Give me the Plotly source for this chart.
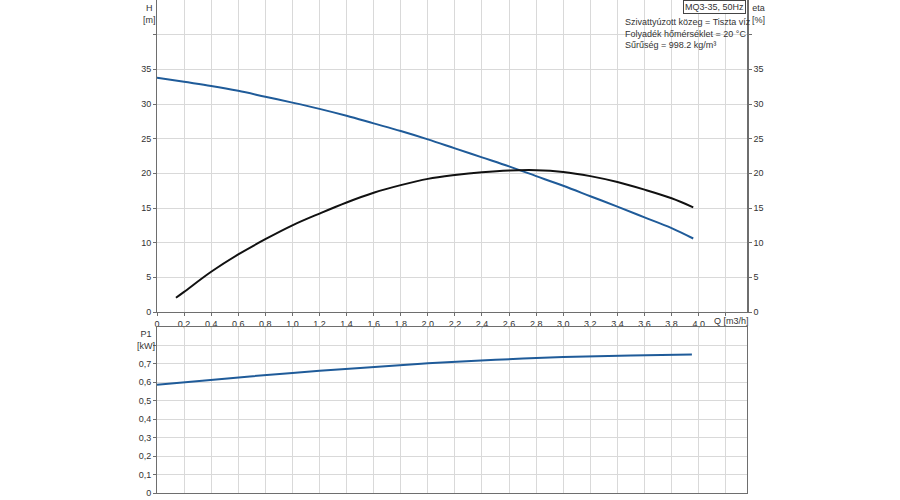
import plotly.graph_objects as go

# ---- data ----
q_h = [0, 0.2, 0.4, 0.6, 0.8, 1.0, 1.2, 1.4, 1.6, 1.8, 2.0, 2.2, 2.4, 2.6, 2.8, 3.0, 3.2, 3.4, 3.6, 3.8, 3.96]
h_m = [33.8, 33.2, 32.6, 31.9, 31.05, 30.2, 29.3, 28.3, 27.2, 26.1, 24.9, 23.6, 22.3, 21.0, 19.6, 18.2, 16.7, 15.2, 13.65, 12.1, 10.6]

q_eta = [0.14, 0.2, 0.4, 0.6, 0.8, 1.0, 1.2, 1.4, 1.6, 1.8, 2.0, 2.2, 2.4, 2.6, 2.8, 3.0, 3.2, 3.4, 3.6, 3.8, 3.96]
eta_pct = [2.05, 2.9, 5.8, 8.3, 10.5, 12.5, 14.2, 15.8, 17.2, 18.3, 19.2, 19.75, 20.15, 20.4, 20.45, 20.2, 19.6, 18.75, 17.65, 16.4, 15.1]

q_p1 = [0, 0.5, 1.0, 1.5, 2.0, 2.5, 3.0, 3.5, 3.95]
p1_kw = [0.587, 0.62, 0.651, 0.678, 0.703, 0.722, 0.737, 0.746, 0.751]

q_ticks = [0, 0.2, 0.4, 0.6, 0.8, 1.0, 1.2, 1.4, 1.6, 1.8, 2.0, 2.2, 2.4, 2.6, 2.8, 3.0, 3.2, 3.4, 3.6, 3.8, 4.0, 4.2]
q_labels = ["0", "0,2", "0,4", "0,6", "0,8", "1,0", "1,2", "1,4", "1,6", "1,8", "2,0",
            "2,2", "2,4", "2,6", "2,8", "3,0", "3,2", "3,4", "3,6", "3,8", "4,0", ""]
h_ticks = [0, 5, 10, 15, 20, 25, 30, 35, 40]
h_labels = ["0", "5", "10", "15", "20", "25", "30", "35", ""]
p_ticks = [0, 0.1, 0.2, 0.3, 0.4, 0.5, 0.6, 0.7, 0.8]
p_labels = ["0", "0,1", "0,2", "0,3", "0,4", "0,5", "0,6", "0,7", ""]

info_lines = ["Szivattyúzott közeg = Tiszta víz", "Folyadék hőmérséklet = 20 °C", "Sűrűség = 998.2 kg/m³"]

BLUE = "#1f5b99"
GRID = "#d9d9d9"
AXIS = "#6e6e6e"
TXT = "#333333"
FONT = "Liberation Sans, Arial, sans-serif"

fig = go.Figure()
fig.add_trace(go.Scatter(x=q_h, y=h_m, mode="lines", line=dict(color=BLUE, width=2, shape="spline"),
                         xaxis="x", yaxis="y", showlegend=False))
fig.add_trace(go.Scatter(x=q_eta, y=eta_pct, mode="lines", line=dict(color="#111111", width=2, shape="spline"),
                         xaxis="x", yaxis="y2", showlegend=False))
fig.add_trace(go.Scatter(x=q_p1, y=p1_kw, mode="lines", line=dict(color=BLUE, width=2, shape="spline"),
                         xaxis="x2", yaxis="y3", showlegend=False))

top_dom = [(493 - 312) / 493, 1.0]
bot_dom = [0.0, (493 - 327) / 493]
xr = [0, 4.357]

common_x = dict(range=xr, tickvals=q_ticks, gridcolor=GRID, gridwidth=1, zeroline=False, automargin=False,
                showline=True, linecolor=AXIS, linewidth=1, mirror=False, ticks="outside", ticklen=3,
                tickcolor=AXIS, tickfont=dict(size=9, color=TXT, family=FONT))

fig.update_layout(
    width=900, height=500,
    margin=dict(l=157, r=153, t=0, b=7, autoexpand=False),
    paper_bgcolor="white", plot_bgcolor="white",
    font=dict(family=FONT, size=9, color=TXT),
    xaxis=dict(common_x, domain=[0, 1], anchor="y", ticktext=q_labels),
    xaxis2=dict(common_x, domain=[0, 1], anchor="y3", showticklabels=False, ticks="", matches="x", mirror=True),
    yaxis=dict(domain=top_dom, range=[0, 45], tickvals=h_ticks, ticktext=h_labels, gridcolor=GRID,
               zeroline=False, showline=True, linecolor=AXIS, linewidth=1, ticks="outside", ticklen=3,
               automargin=False, tickcolor=AXIS, tickfont=dict(size=9, color=TXT)),
    yaxis2=dict(domain=top_dom, range=[0, 45], overlaying="y", side="right", anchor="x",
                tickvals=h_ticks, ticktext=h_labels, showgrid=False, zeroline=False, automargin=False,
                showline=True, linecolor=AXIS, linewidth=1.5, ticks="outside", ticklen=3,
                tickcolor=AXIS, tickfont=dict(size=9, color=TXT)),
    yaxis3=dict(domain=bot_dom, range=[0, 0.9], anchor="x2", tickvals=p_ticks, ticktext=p_labels,
                gridcolor=GRID, zeroline=False, showline=True, linecolor=AXIS, linewidth=1, mirror=True,
                automargin=False, ticks="outside", ticklen=3, tickcolor=AXIS, tickfont=dict(size=9, color=TXT)),
)


def px_ann(text, x, y, xanchor="center", yanchor="top", align="center", size=9, **kw):
    fig.add_annotation(text=text, x=(x - 157) / 590, y=(493 - y) / 493, xref="paper", yref="paper",
                       showarrow=False, xanchor=xanchor, yanchor=yanchor, align=align,
                       font=dict(size=size, color=TXT, family=FONT), **kw)


px_ann("H<br>[m]", 149, 1)
px_ann("eta<br>[%]", 758, 1)
px_ann("P1<br>[kW]", 146, 327)
px_ann("Q [m3/h]", 712, 314, xanchor="left")
px_ann("<br>".join(info_lines), 623, 15, xanchor="left", align="left")
px_ann("MQ3-35, 50Hz", 746, 0, xanchor="right", bordercolor="#444444", borderwidth=1,
       bgcolor="white", borderpad=1)

fig.write_html("out.html", config={"displayModeBar": False},
               post_script="document.body.style.margin='0px';")
